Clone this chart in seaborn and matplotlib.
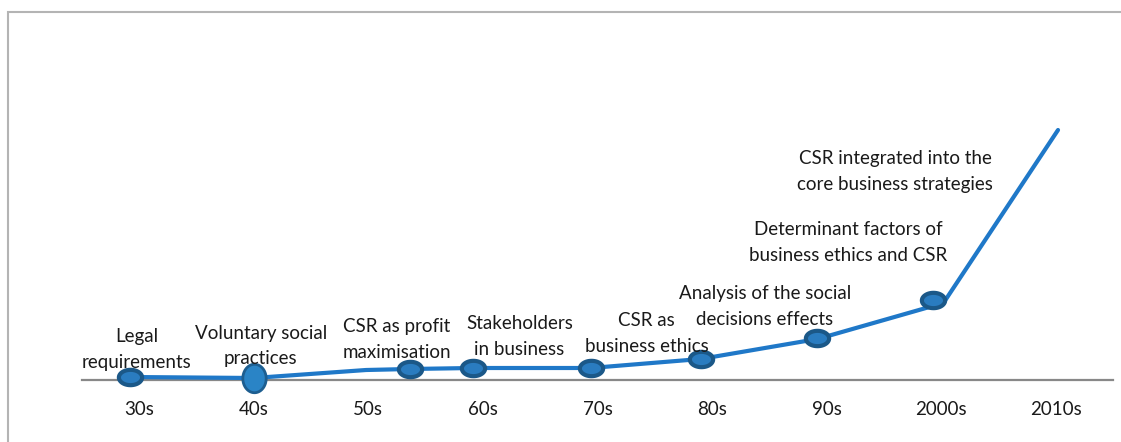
import numpy as np
import pandas as pd
import matplotlib
matplotlib.use("Agg")
import matplotlib.pyplot as plt
from matplotlib.path import Path
from matplotlib.patches import Rectangle
import seaborn as sns

# ---- data ----
categories = ["30s", "40s", "50s", "60s", "70s", "80s", "90s", "2000s", "2010s"]
line_x = [-0.08, 1.0, 1.98, 2.36, 2.91, 3.94, 4.90, 5.92, 7.02, 8.02]
line_y = [3, 2, 10, 11, 12, 12, 21, 41, 77, 250]
marker_x = [-0.08, 2.36, 2.91, 3.94, 4.90, 5.92, 6.93]
marker_y = [3, 11, 12, 12, 21, 42, 80]
big_marker_x = [1.0]
big_marker_y = [2]
labels = ["Legal\nrequirements", "Voluntary social\npractices",
          "CSR as profit\nmaximisation", "Stakeholders\nin business",
          "CSR as\nbusiness ethics", "Analysis of the social\ndecisions effects",
          "Determinant factors of\nbusiness ethics and CSR",
          "CSR integrated into the\ncore business strategies"]
label_x = [-0.02, 1.06, 2.25, 3.32, 4.43, 5.46, 6.19, 6.60]
label_y = [30.5, 34, 40.5, 43.5, 46.5, 73.5, 137.5, 208.5]

sns.set_theme(style="white")
plt.rcParams['font.family'] = ['Lato', 'DejaVu Sans']

W, H = 1121, 442
fig = plt.figure(figsize=(W / 100, H / 100), dpi=100)
ax = fig.add_axes([82 / W, (H - 380) / H, (1113 - 82) / W, 350 / H])

line_df = pd.DataFrame({"x": line_x, "y": line_y})
sns.lineplot(data=line_df, x="x", y="y", ax=ax, color="#1f78c8", lw=3,
             sort=False, zorder=2)

# ellipse marker
t = np.linspace(0, 2 * np.pi, 60)
ell = Path(np.column_stack([np.cos(t), 0.66 * np.sin(t)]), closed=True)
ell_tall = Path(np.column_stack([0.82 * np.cos(t), np.sin(t)]), closed=True)

mk_df = pd.DataFrame({"x": marker_x, "y": marker_y})
sns.scatterplot(data=mk_df, x="x", y="y", ax=ax, marker=ell, s=280,
                color="#2a7cc0", edgecolor="#1b5888", linewidth=3, zorder=3,
                clip_on=False)
big_df = pd.DataFrame({"x": big_marker_x, "y": big_marker_y})
sns.scatterplot(data=big_df, x="x", y="y", ax=ax, marker=ell_tall, s=420,
                color="#2a84c6", edgecolor="#1d5e90", linewidth=2, zorder=3,
                clip_on=False)

for txt, x, y in zip(labels, label_x, label_y):
    ax.text(x, y, txt, ha="center", va="center", fontsize=13.5,
            color="#1a1a1a", linespacing=1.6, zorder=4)

ax.set_xlim(-0.5, 8.5)
ax.set_ylim(0, 350)
ax.set_xticks(range(len(categories)))
ax.set_xticklabels(categories, fontsize=13.5, color="#1a1a1a")
ax.tick_params(axis="x", length=0, pad=15)
ax.set_yticks([])
ax.set_xlabel("")
ax.set_ylabel("")
for s in ["top", "right", "left"]:
    ax.spines[s].set_visible(False)
ax.spines["bottom"].set_color("#888888")
ax.spines["bottom"].set_linewidth(1.6)
ax.spines["bottom"].set_zorder(1)
ax.set_facecolor("none")

fig.add_artist(Rectangle((7.5 / W, -0.05), 1.2, (H - 12) / H + 0.05,
                         transform=fig.transFigure, fill=False,
                         edgecolor="#b4b4b4", lw=1.5))

fig.savefig("out.png", dpi=100, facecolor="white")
